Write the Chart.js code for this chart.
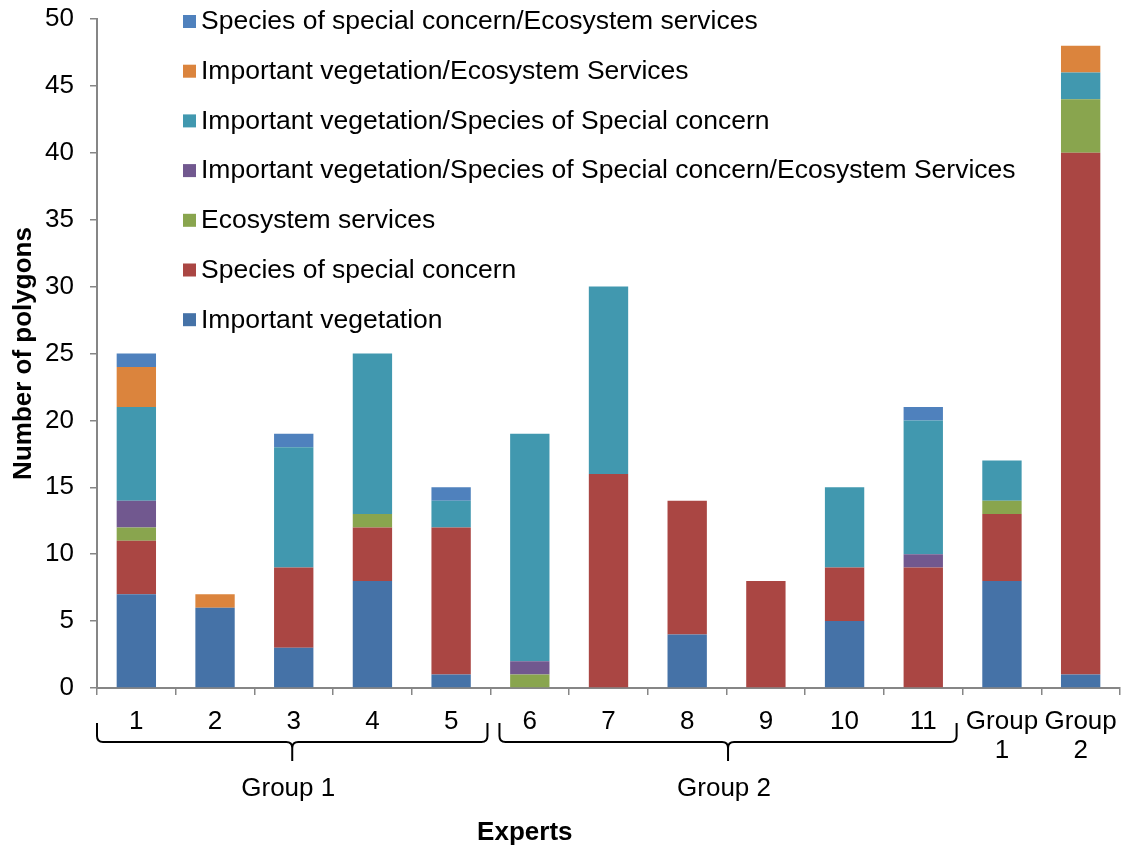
<!DOCTYPE html>
<html>
<head>
<meta charset="utf-8">
<title>Number of polygons by expert</title>
<script src="https://cdn.jsdelivr.net/npm/chart.js@4.4.1/dist/chart.umd.min.js"></script>
<style>
  html, body { margin: 0; padding: 0; background: #ffffff; }
  #wrap { width: 1123px; height: 850px; }
</style>
</head>
<body>
<div id="wrap"><canvas id="chart" width="1123" height="850"></canvas></div>
<script>
// Experts (individual and pooled groups)
const categories = ['1', '2', '3', '4', '5', '6', '7', '8', '9', '10', '11', ['Group', '1'], ['Group', '2']];

// Number of polygons per attribute combination, stacked from the bottom up
const importantVegetation   = [7, 6, 3, 8, 1, 0, 0, 4, 0, 5, 0, 8, 1];
const speciesOfConcern      = [4, 0, 6, 4, 11, 0, 16, 10, 8, 4, 9, 5, 39];
const ecosystemServices     = [1, 0, 0, 1, 0, 1, 0, 0, 0, 0, 0, 1, 4];
const vegSpeciesServices    = [2, 0, 0, 0, 0, 1, 0, 0, 0, 0, 1, 0, 0];
const vegSpecies            = [7, 0, 9, 12, 2, 17, 14, 0, 0, 6, 10, 3, 2];
const vegServices           = [3, 1, 0, 0, 0, 0, 0, 0, 0, 0, 0, 0, 2];
const speciesServices       = [1, 0, 1, 0, 1, 0, 0, 0, 0, 0, 1, 0, 0];

const seriesNames = [
  'Important vegetation',
  'Species of special concern',
  'Ecosystem services',
  'Important vegetation/Species of Special concern/Ecosystem Services',
  'Important vegetation/Species of Special concern',
  'Important vegetation/Ecosystem Services',
  'Species of special concern/Ecosystem services'
];
const seriesValues = [importantVegetation, speciesOfConcern, ecosystemServices,
  vegSpeciesServices, vegSpecies, vegServices, speciesServices];
const seriesColors = ['#4572A7', '#AA4643', '#89A54E', '#71588F', '#4198AF', '#DB843D', '#4F81BD'];

// Expert groups marked with braces under the axis
const groupLabels = ['Group 1', 'Group 2'];
const groupFirst = [0, 5];
const groupLast = [4, 10];

const yTicks = [0, 5, 10, 15, 20, 25, 30, 35, 40, 45, 50];

const FONT = '"Liberation Sans", Arial, sans-serif';
const AXIS_GREY = '#868686';

// Vertical legend inside the plot, listed top stack first
const insideLegend = {
  id: 'insideLegend',
  afterDraw(chart) {
    const ctx = chart.ctx;
    const area = chart.chartArea;
    const x0 = area.left + 86;
    const y0 = area.top + 3;
    const step = 49.7;
    ctx.save();
    ctx.font = '26.5px ' + FONT;
    ctx.textBaseline = 'middle';
    ctx.textAlign = 'left';
    const ds = chart.data.datasets;
    for (let i = ds.length - 1, row = 0; i >= 0; i--, row++) {
      const cy = y0 + row * step;
      ctx.fillStyle = ds[i].backgroundColor;
      ctx.fillRect(x0, cy - 7, 13, 13);
      ctx.fillStyle = '#000000';
      ctx.fillText(ds[i].label, x0 + 18, cy);
    }
    ctx.restore();
  }
};

// Braces grouping the experts, group names and the x-axis title
const groupBraces = {
  id: 'groupBraces',
  afterDraw(chart) {
    const ctx = chart.ctx;
    const xs = chart.scales.x;
    const base = chart.chartArea.bottom;
    const half = (xs.getPixelForValue(1) - xs.getPixelForValue(0)) / 2;
    const top = base + 35, mid = base + 54, tip = base + 73, r = 6;
    ctx.save();
    ctx.strokeStyle = '#000000';
    ctx.lineWidth = 2;
    ctx.lineJoin = 'round';
    ctx.font = '26px ' + FONT;
    ctx.fillStyle = '#000000';
    ctx.textAlign = 'center';
    ctx.textBaseline = 'middle';
    groupLabels.forEach((label, g) => {
      const left = xs.getPixelForValue(groupFirst[g]) - half + (g === 0 ? 0 : 9);
      const right = xs.getPixelForValue(groupLast[g]) + half - (g === 0 ? 3 : 6);
      const cx = (left + right) / 2;
      ctx.beginPath();
      ctx.moveTo(left, top);
      ctx.lineTo(left, mid - r);
      ctx.quadraticCurveTo(left, mid, left + r, mid);
      ctx.lineTo(cx - r, mid);
      ctx.quadraticCurveTo(cx, mid, cx, mid + r);
      ctx.lineTo(cx, tip);
      ctx.moveTo(cx, mid + r);
      ctx.quadraticCurveTo(cx, mid, cx + r, mid);
      ctx.lineTo(right - r, mid);
      ctx.quadraticCurveTo(right, mid, right, mid - r);
      ctx.lineTo(right, top);
      ctx.stroke();
      ctx.fillText(label, cx - 4, base + 101);
    });
    ctx.font = 'bold 26px ' + FONT;
    ctx.fillText('Experts', xs.getPixelForValue(5) - 5, base + 145);
    ctx.restore();
  }
};

new Chart(document.getElementById('chart'), {
  type: 'bar',
  data: {
    labels: categories,
    datasets: seriesNames.map((name, i) => ({
      label: name,
      data: seriesValues[i],
      backgroundColor: seriesColors[i],
      borderWidth: 0,
      categoryPercentage: 1.0,
      barPercentage: 0.5
    }))
  },
  options: {
    responsive: false,
    animation: false,
    layout: { padding: { top: 19, right: 3, left: 0, bottom: 0 } },
    plugins: {
      legend: { display: false },
      tooltip: { enabled: false }
    },
    scales: {
      x: {
        stacked: true,
        afterFit(scale) {
          scale.height = 162;
          scale.paddingLeft = 0;
          scale.paddingRight = 0;
        },
        grid: {
          offset: true,
          drawOnChartArea: false,
          drawTicks: true,
          tickLength: 7,
          color: AXIS_GREY,
          lineWidth: 1.5
        },
        border: { display: true, color: AXIS_GREY, width: 2 },
        ticks: {
          color: '#000000',
          font: { family: FONT, size: 26, lineHeight: 1.12 },
          padding: 12,
          maxRotation: 0,
          autoSkip: false
        }
      },
      y: {
        stacked: true,
        min: 0,
        max: 50,
        afterFit(scale) {
          scale.width = 97;
          scale.paddingTop = 0;
          scale.paddingBottom = 0;
        },
        afterBuildTicks(scale) { scale.ticks = yTicks.map(v => ({ value: v })); },
        grid: {
          drawOnChartArea: false,
          drawTicks: true,
          tickLength: 7,
          color: AXIS_GREY,
          lineWidth: 1.5
        },
        border: { display: true, color: AXIS_GREY, width: 2 },
        ticks: {
          color: '#000000',
          font: { family: FONT, size: 26 },
          padding: 16
        },
        title: {
          display: true,
          text: 'Number of polygons',
          color: '#000000',
          font: { family: FONT, size: 26, weight: 'bold' },
          padding: { top: 8, bottom: 0 }
        }
      }
    }
  },
  plugins: [insideLegend, groupBraces]
});
</script>
</body>
</html>
